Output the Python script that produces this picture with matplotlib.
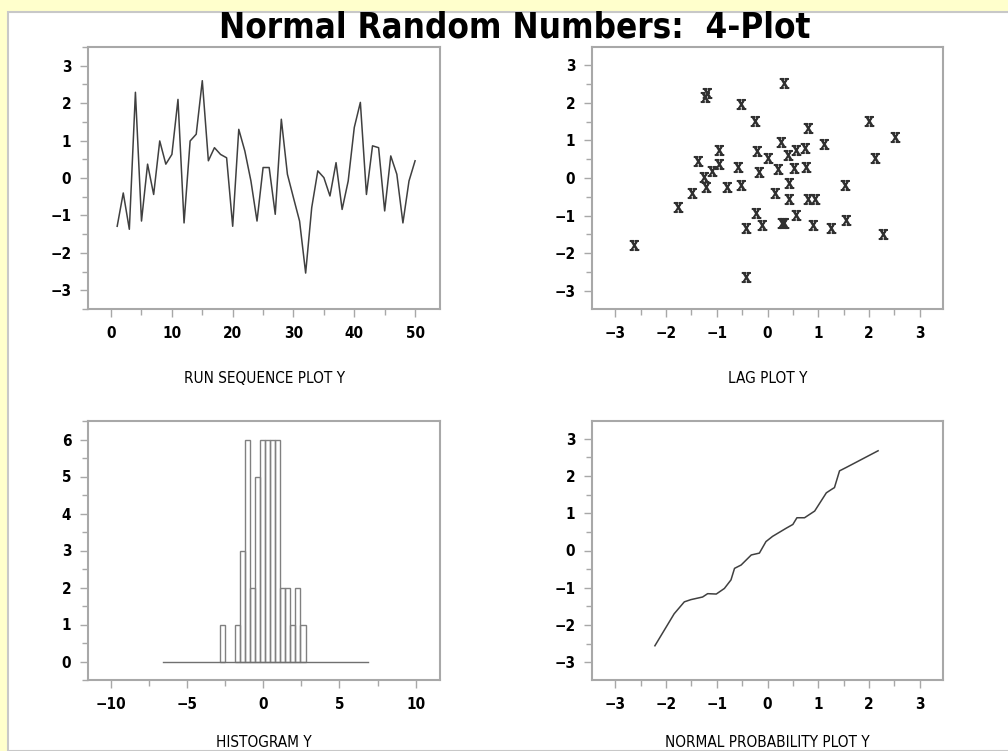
import matplotlib
matplotlib.use("Agg")
import matplotlib.pyplot as plt
from matplotlib.patches import Rectangle
from matplotlib.ticker import MultipleLocator

plt.rcParams['font.family'] = ['DejaVu Sans']
plt.rcParams['font.stretch'] = 'condensed'
plt.rcParams['mathtext.fontset'] = 'dejavuserif'

# run sequence (index 1..50)
run_y = [-1.29, -0.40, -1.37, 2.29, -1.15, 0.37, -0.44, 0.99, 0.37, 0.63,
         2.10, -1.20, 0.99, 1.17, 2.60, 0.46, 0.81, 0.63, 0.54, -1.29,
         1.30, 0.72, -0.08, -1.15, 0.28, 0.28, -0.97, 1.57, 0.10, -0.53,
         -1.15, -2.54, -0.79, 0.19, 0.01, -0.48, 0.41, -0.84, -0.08, 1.35,
         2.02, -0.44, 0.86, 0.81, -0.88, 0.59, 0.10, -1.20, -0.08, 0.46]

# lag plot: Y(i-1) vs Y(i)
lag_x = [-2.63, -1.77, -1.48, -1.37, -1.26, -1.21, -1.23, -1.20, -1.10, -0.95,
         -0.95, -0.79, -0.58, -0.52, -0.52, -0.43, -0.43, -0.25, -0.22, -0.21,
         -0.16, -0.10, 0.00, 0.15, 0.20, 0.27, 0.28, 0.32, 0.32, 0.41,
         0.42, 0.43, 0.52, 0.57, 0.57, 0.73, 0.75, 0.79, 0.79, 0.94,
         0.89, 1.11, 1.26, 1.53, 1.54, 2.00, 2.11, 2.27, 2.52]
lag_y = [-1.77, -0.76, -0.40, 0.45, 0.02, -0.25, 2.15, 2.26, 0.18, 0.75,
         0.38, -0.25, 0.30, -0.18, 1.97, -1.34, -2.63, 1.52, -0.92, 0.73,
         0.17, -1.25, 0.54, -0.40, 0.24, 0.96, -1.19, -1.19, 2.52, 0.62,
         -0.12, -0.55, 0.26, -0.97, 0.75, 0.81, 0.30, 1.32, -0.55, -0.55,
         -1.25, 0.89, -1.34, -0.18, -1.12, 1.52, 0.54, -1.49, 1.09]

# histogram
hist_centers = [-2.67, -1.68, -1.35, -1.02, -0.69, -0.36, -0.03, 0.30,
                0.63, 0.96, 1.29, 1.62, 1.95, 2.28, 2.61]
hist_counts = [1, 1, 3, 6, 2, 5, 6, 6, 6, 6, 2, 2, 1, 2, 1]
hist_width = 0.33
hist_range = [-6.6, 6.86]

# normal probability plot
prob_x = [-2.22, -1.84, -1.64, -1.51, -1.28, -1.18, -1.01, -0.85, -0.72, -0.65,
          -0.52, -0.32, -0.16, -0.03, 0.10, 0.37, 0.50, 0.58, 0.73, 0.93,
          1.16, 1.26, 1.32, 1.42, 1.55, 2.18]
prob_y = [-2.56, -1.70, -1.38, -1.32, -1.25, -1.16, -1.17, -1.02, -0.79, -0.48,
          -0.39, -0.12, -0.07, 0.24, 0.38, 0.60, 0.70, 0.88, 0.88, 1.06,
          1.55, 1.64, 1.69, 2.14, 2.23, 2.68]

W, H = 1008, 751
fig = plt.figure(figsize=(W / 100, H / 100), dpi=100)
fig.patch.set_facecolor('#ffffcc')
panel = Rectangle((8 / W, 0), 1.1, 1 - 12 / H, transform=fig.transFigure,
                  facecolor='white', edgecolor='#c8c8c8', linewidth=1.5, zorder=-10)
fig.patches.append(panel)

def px_axes(l, t, r, b):
    ax = fig.add_axes([l / W, 1 - b / H, (r - l) / W, (b - t) / H])
    ax.patch.set_alpha(0)
    return ax

ax1 = px_axes(88, 47, 440, 309)
ax2 = px_axes(592, 47, 943, 309)
ax3 = px_axes(88, 421, 440, 680)
ax4 = px_axes(592, 421, 943, 680)

line_col = '#404040'
ax1.plot(range(1, len(run_y) + 1), run_y, color=line_col, linewidth=1.1)
ax1.set_xlim(-3.8, 54.1)
ax1.set_ylim(-3.5, 3.5)
ax1.xaxis.set_major_locator(MultipleLocator(10))
ax1.xaxis.set_minor_locator(MultipleLocator(5))
ax1.set_xlabel('RUN SEQUENCE PLOT Y')

ax2.plot(lag_x, lag_y, linestyle='none', marker=r'$\mathrm{X}$', markersize=7,
         color='#303030')
ax2.set_xlim(-3.46, 3.46)
ax2.set_ylim(-3.48, 3.48)
ax2.set_xlabel('LAG PLOT Y')

ax3.bar(hist_centers, hist_counts, width=hist_width, fill=False,
        edgecolor='#808080', linewidth=1)
ax3.plot(hist_range, [0, 0], color='#707070', linewidth=1)
ax3.set_xlim(-11.5, 11.6)
ax3.set_ylim(-0.5, 6.5)
ax3.xaxis.set_major_locator(MultipleLocator(5))
ax3.xaxis.set_minor_locator(MultipleLocator(2.5))
ax3.yaxis.set_major_locator(MultipleLocator(1))
ax3.set_xlabel('HISTOGRAM Y')

ax4.plot(prob_x, prob_y, color=line_col, linewidth=1.1)
ax4.set_xlim(-3.46, 3.46)
ax4.set_ylim(-3.48, 3.48)
ax4.set_xlabel('NORMAL PROBABILITY PLOT Y')

for ax in (ax2, ax4):
    ax.xaxis.set_major_locator(MultipleLocator(1))
    ax.xaxis.set_minor_locator(MultipleLocator(0.5))

for ax in (ax1, ax2, ax4):
    ax.yaxis.set_major_locator(MultipleLocator(1))

for ax in (ax1, ax2, ax3, ax4):
    ax.yaxis.set_minor_locator(MultipleLocator(0.5))
    for s in ax.spines.values():
        s.set_color('#a8a8a8')
        s.set_linewidth(1.5)
    ax.tick_params(which='major', length=6, width=1, color='#a8a8a8',
                   labelsize=11, pad=6)
    ax.tick_params(which='minor', length=4, width=1, color='#a8a8a8')
    for lab in ax.get_xticklabels() + ax.get_yticklabels():
        lab.set_fontweight('bold')
    ax.xaxis.label.set_size(11)
    ax.xaxis.labelpad = 22

# bottom row labels sit right at the lower edge
ax3.xaxis.labelpad = 17
ax4.xaxis.labelpad = 17

fig.text(515 / W, 1 - 28 / H, 'Normal Random Numbers:  4-Plot', ha='center',
         va='center', fontsize=25, fontweight='bold')

fig.savefig('out.png', dpi=100, facecolor=fig.get_facecolor())
